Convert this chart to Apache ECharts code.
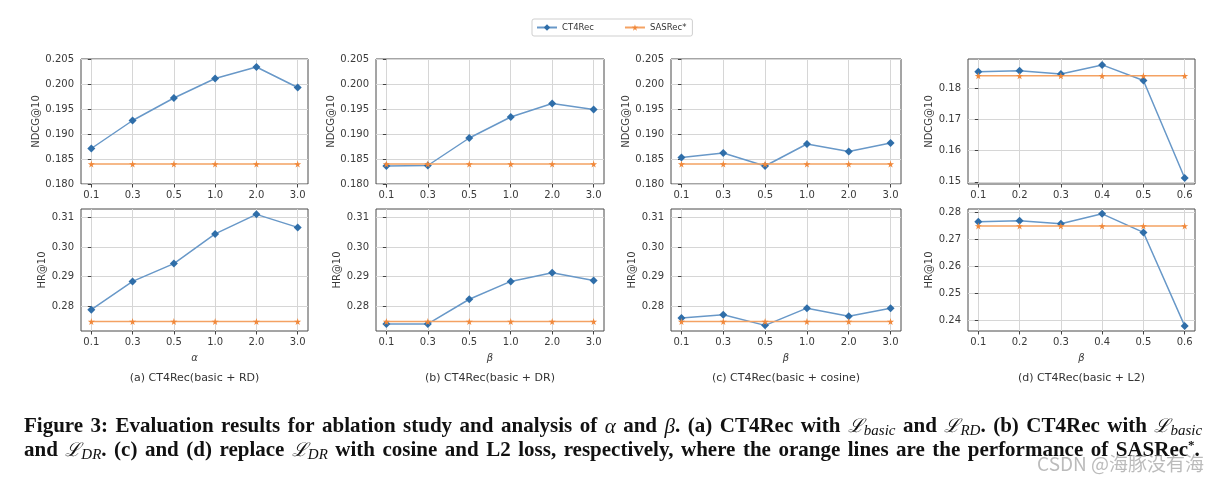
<!DOCTYPE html>
<html><head><meta charset="utf-8">
<script src="https://cdn.jsdelivr.net/npm/echarts@6/dist/echarts.min.js"></script>
<style>html,body{margin:0;padding:0;background:#fff}#c{width:1218px;height:483px}</style>
</head><body><div id="c"></div>
<script>
// ---------- data ----------
const alphaLabels = ['0.1','0.3','0.5','1.0','2.0','3.0'];
const betaLabels = ['0.1','0.3','0.5','1.0','2.0','3.0'];
const betaL2Labels = ['0.1','0.2','0.3','0.4','0.5','0.6'];

const ct4recNdcgA = [0.1871, 0.1927, 0.1972, 0.2011, 0.2034, 0.1993];
const ct4recHrA   = [0.2789, 0.2884, 0.2944, 0.3044, 0.3110, 0.3066];
const ct4recNdcgB = [0.1836, 0.1837, 0.1892, 0.1934, 0.1961, 0.1949];
const ct4recHrB   = [0.2741, 0.2741, 0.2824, 0.2884, 0.2913, 0.2887];
const ct4recNdcgC = [0.1853, 0.1862, 0.1836, 0.1880, 0.1865, 0.1882];
const ct4recHrC   = [0.2761, 0.2772, 0.2736, 0.2794, 0.2767, 0.2794];
const ct4recNdcgD = [0.1853, 0.1856, 0.1846, 0.1875, 0.1825, 0.1512];
const ct4recHrD   = [0.2765, 0.2768, 0.2757, 0.2794, 0.2725, 0.2378];
const sasrecNdcg  = [0.1840, 0.1840, 0.1840, 0.1840, 0.1840, 0.1840];
const sasrecHr    = [0.2749, 0.2749, 0.2749, 0.2749, 0.2749, 0.2749];

const ndcgTicksABC = [0.180, 0.185, 0.190, 0.195, 0.200, 0.205];
const hrTicksABC   = [0.28, 0.29, 0.30, 0.31];
const ndcgTicksD   = [0.15, 0.16, 0.17, 0.18];
const hrTicksD     = [0.24, 0.25, 0.26, 0.27, 0.28];

const panelCaptions = ['(a) CT4Rec(basic + RD)', '(b) CT4Rec(basic + DR)', '(c) CT4Rec(basic + cosine)', '(d) CT4Rec(basic + L2)'];
const xNames = ['α', 'β', 'β', 'β'];

// ---------- layout ----------
const cols = [{left:81,width:227},{left:376,width:228},{left:671,width:230},{left:968,width:227}];
const rows = [{top:59,height:125},{top:209,height:122}];

const panels = [
  {c:0,r:0,labels:alphaLabels,ct:ct4recNdcgA,sas:sasrecNdcg,ticks:ndcgTicksABC,dec:3,min:0.180,max:0.205,yname:'NDCG@10',gap:39},
  {c:1,r:0,labels:betaLabels,ct:ct4recNdcgB,sas:sasrecNdcg,ticks:ndcgTicksABC,dec:3,min:0.180,max:0.205,yname:'NDCG@10',gap:39},
  {c:2,r:0,labels:betaLabels,ct:ct4recNdcgC,sas:sasrecNdcg,ticks:ndcgTicksABC,dec:3,min:0.180,max:0.205,yname:'NDCG@10',gap:39},
  {c:3,r:0,labels:betaL2Labels,ct:ct4recNdcgD,sas:sasrecNdcg,ticks:ndcgTicksD,dec:2,min:0.1493,max:0.1894,yname:'NDCG@10',gap:33},
  {c:0,r:1,labels:alphaLabels,ct:ct4recHrA,sas:sasrecHr,ticks:hrTicksABC,dec:2,min:0.2717,max:0.3128,yname:'HR@10',gap:33},
  {c:1,r:1,labels:betaLabels,ct:ct4recHrB,sas:sasrecHr,ticks:hrTicksABC,dec:2,min:0.2717,max:0.3128,yname:'HR@10',gap:33},
  {c:2,r:1,labels:betaLabels,ct:ct4recHrC,sas:sasrecHr,ticks:hrTicksABC,dec:2,min:0.2717,max:0.3128,yname:'HR@10',gap:33},
  {c:3,r:1,labels:betaL2Labels,ct:ct4recHrD,sas:sasrecHr,ticks:hrTicksD,dec:2,min:0.2359,max:0.2812,yname:'HR@10',gap:33}
];

const FONT = 'DejaVu Sans';
const starPath = 'path://M50,0 L61,35 L98,35 L68,57 L79,91 L50,70 L21,91 L32,57 L2,35 L39,35 Z';
const idx = [0,1,2,3,4,5];

const grids = [], xAxes = [], yAxes = [], series = [];
panels.forEach((p, k) => {
  grids.push({left: cols[p.c].left, top: rows[p.r].top, width: cols[p.c].width, height: rows[p.r].height,
    show: true, borderColor: '#4a4a4a', borderWidth: 1, backgroundColor: 'rgba(0,0,0,0)', containLabel: false, outerBoundsMode: 'none'});
  xAxes.push({type:'value', gridIndex:k, min:-0.25, max:5.25,
    axisLine:{show:false},
    axisTick:{show:true, customValues: idx, length:3.5, lineStyle:{color:'#444'}},
    axisLabel:{customValues: idx, formatter: v => p.labels[Math.round(v)], margin:6.5, fontSize:10, color:'#3a3a3a', fontFamily:FONT},
    splitLine:{show:true, lineStyle:{color:'#d6d6d6', width:1}},
    name: p.r === 1 ? xNames[p.c] : '', nameLocation:'middle', nameGap:22,
    nameTextStyle:{fontSize:10, fontStyle:'italic', color:'#3a3a3a', fontFamily:FONT}});
  yAxes.push({type:'value', gridIndex:k, min:p.min, max:p.max,
    axisLine:{show:false},
    axisTick:{show:true, customValues: p.ticks, length:3.5, lineStyle:{color:'#444'}},
    axisLabel:{customValues: p.ticks, formatter: v => v.toFixed(p.dec), margin:7, fontSize:10, color:'#3a3a3a', fontFamily:FONT},
    splitLine:{show:true, lineStyle:{color:'#d6d6d6', width:1}},
    name: p.yname, nameLocation:'middle', nameGap:p.gap, nameRotate:90,
    nameTextStyle:{fontSize:10, color:'#3a3a3a', fontFamily:FONT}});
  series.push({type:'line', name:'CT4Rec', xAxisIndex:k, yAxisIndex:k,
    data: p.ct.map((v,i)=>[i,v]), symbol:'diamond', symbolSize:8, showSymbol:true,
    lineStyle:{color:'#6898c8', width:1.5}, itemStyle:{color:'#2f6ea9'}, z:2});
  series.push({type:'line', name:'SASRec*', xAxisIndex:k, yAxisIndex:k,
    data: p.sas.map((v,i)=>[i,v]), symbol:starPath, symbolSize:7, showSymbol:true,
    lineStyle:{color:'#f4a263', width:1.5}, itemStyle:{color:'#f1883a'}, z:3});
});

const graphics = [];
panelCaptions.forEach((t, c) => {
  graphics.push({type:'text', x: cols[c].left + cols[c].width/2, y: 378,
    style:{text:t, font:'11px "DejaVu Sans"', fill:'#333', textAlign:'center', textVerticalAlign:'middle'}});
});

const rich = {
  b:{fontFamily:'Liberation Serif', fontWeight:'bold', fontSize:21, fill:'#111', lineHeight:23},
  w:{fontFamily:'Liberation Serif', fontWeight:'bold', fontSize:30, fill:'#111', lineHeight:23},
  i:{fontFamily:'Liberation Serif', fontStyle:'italic', fontSize:21, fill:'#111', lineHeight:23},
  l:{fontFamily:'DejaVu Serif', fontStyle:'italic', fontSize:19, fill:'#111', lineHeight:23},
  s:{fontFamily:'Liberation Serif', fontStyle:'italic', fontSize:15, fill:'#111', lineHeight:14, verticalAlign:'bottom'},
  sup:{fontFamily:'Liberation Serif', fontWeight:'bold', fontSize:13, fill:'#111', lineHeight:14, verticalAlign:'top'}
};
// justified caption: widen inter-word spaces like the typeset original
const justify = s => s.replace(/\{b\|([^}]*)\}/g, (m, c) => '{b|' + c.split(' ').join('}{w| }{b|') + '}');
const capLine1 = '{b|Figure 3: Evaluation results for ablation study and analysis of }{i|α}{b| and }{i|β}{b|. (a) CT4Rec with }{l|ℒ}{s|basic}{b| and }{l|ℒ}{s|RD}{b|. (b) CT4Rec with }{l|ℒ}{s|basic}';
const capLine2 = '{b|and }{l|ℒ}{s|DR}{b|. (c) and (d) replace }{l|ℒ}{s|DR}{b| with cosine and L2 loss, respectively, where the orange lines are the performance of SASRec}{sup|*}{b|.}';
graphics.push({type:'text', x:24, y:427, style:{text:justify(capLine1), rich:rich, textAlign:'left', textVerticalAlign:'middle'}});
graphics.push({type:'text', x:24, y:451, style:{text:justify(capLine2), rich:rich, textAlign:'left', textVerticalAlign:'middle'}});
graphics.push({type:'text', x:1204, y:464, z:10, style:{text:'CSDN @海豚没有海', font:'19px "Noto Sans CJK SC"', fill:'rgba(150,150,150,0.65)', textAlign:'right', textVerticalAlign:'middle'}});

const chart = echarts.init(document.getElementById('c'), null, {renderer:'canvas'});
chart.setOption({
  animation:false,
  backgroundColor:'#fff',
  legend:{data:['CT4Rec','SASRec*'], left:532, top:19, orient:'horizontal',
    borderColor:'#cfcfcf', borderWidth:1, borderRadius:2, padding:[4,6,4,4],
    itemWidth:20, itemHeight:8, itemGap:30,
    textStyle:{fontSize:8.5, color:'#333', fontFamily:FONT}},
  grid: grids, xAxis: xAxes, yAxis: yAxes, series: series, graphic: graphics
});
</script></body></html>
